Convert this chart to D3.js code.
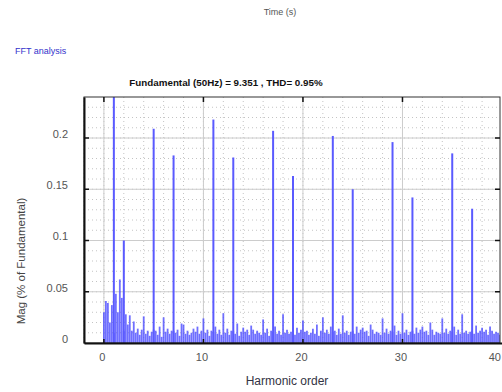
<!DOCTYPE html>
<html>
<head>
<meta charset="utf-8">
<script src="https://cdn.jsdelivr.net/npm/d3@7"></script>
<style>
  body { margin: 0; background: #fff; }
  svg { display: block; font-family: "Liberation Sans", Arial, sans-serif; }
</style>
</head>
<body>
<div id="chart"></div>
<script>
// harmonic orders of the main spectral lines and their magnitudes (% of fundamental)
const peakOrders = [1, 2, 5, 7, 11, 13, 17, 19, 23, 25, 29, 31, 35, 37]
const peakMags = [100, 0.100, 0.209, 0.183, 0.218, 0.181, 0.207, 0.163, 0.202, 0.150, 0.196, 0.142, 0.185, 0.131]

// background spectrum, one value per 0.2 harmonic step, order 0 .. 40
const binStep = 0.2
const noiseMags = [
  0.030, 0.041, 0.039, 0.020, 0.037,
  0.010, 0.048, 0.030, 0.062, 0.044,
  0.012, 0.028, 0.018, 0.027, 0.012,
  0.021, 0.010, 0.014, 0.008, 0.013,
  0.026, 0.009, 0.012, 0.007, 0.011,
  0.013, 0.012, 0.008, 0.016, 0.006,
  0.025, 0.011, 0.014, 0.009, 0.012,
  0.012, 0.010, 0.013, 0.007, 0.019,
  0.018, 0.009, 0.012, 0.008, 0.010,
  0.014, 0.011, 0.016, 0.009, 0.012,
  0.024, 0.010, 0.013, 0.007, 0.012,
  0.011, 0.016, 0.009, 0.013, 0.008,
  0.029, 0.010, 0.014, 0.008, 0.012,
  0.012, 0.009, 0.019, 0.007, 0.011,
  0.015, 0.011, 0.013, 0.008, 0.017,
  0.013, 0.009, 0.012, 0.010, 0.008,
  0.023, 0.010, 0.014, 0.007, 0.012,
  0.011, 0.016, 0.009, 0.012, 0.008,
  0.028, 0.010, 0.013, 0.009, 0.011,
  0.012, 0.008, 0.015, 0.010, 0.013,
  0.022, 0.011, 0.012, 0.008, 0.010,
  0.014, 0.009, 0.018, 0.007, 0.012,
  0.025, 0.010, 0.013, 0.009, 0.016,
  0.011, 0.012, 0.008, 0.014, 0.009,
  0.027, 0.010, 0.012, 0.008, 0.011,
  0.012, 0.009, 0.016, 0.010, 0.013,
  0.015, 0.011, 0.012, 0.007, 0.018,
  0.013, 0.009, 0.011, 0.010, 0.008,
  0.024, 0.010, 0.014, 0.009, 0.012,
  0.011, 0.017, 0.008, 0.012, 0.009,
  0.029, 0.010, 0.013, 0.008, 0.011,
  0.012, 0.009, 0.015, 0.010, 0.013,
  0.016, 0.011, 0.012, 0.008, 0.020,
  0.013, 0.008, 0.011, 0.010, 0.009,
  0.024, 0.010, 0.014, 0.009, 0.012,
  0.011, 0.016, 0.008, 0.013, 0.009,
  0.028, 0.010, 0.012, 0.009, 0.011,
  0.012, 0.009, 0.017, 0.010, 0.012,
  0.015, 0.011, 0.013, 0.008, 0.016,
  0.012, 0.009, 0.011, 0.010, 0.008,
  0.023
]

const xTicks = [0, 10, 20, 30, 40]
const yTicks = [0, 0.05, 0.1, 0.15, 0.2]

const width = 502
const height = 392
const plot = { left: 84, right: 500, top: 97, bottom: 343 }

const svg = d3.select('#chart')
  .append('svg')
  .attr('width', width)
  .attr('height', height)

const x = d3.scaleLinear().domain([-2, 40]).range([plot.left, 502])
const y = d3.scaleLinear().domain([0, 0.24]).range([plot.bottom, plot.top])

// texts above the plot
svg.append('text')
  .attr('x', 280).attr('y', 15)
  .attr('text-anchor', 'middle')
  .attr('font-size', 9)
  .attr('fill', '#555')
  .text('Time (s)')

svg.append('text')
  .attr('x', 15).attr('y', 54)
  .attr('font-size', 9)
  .attr('fill', '#3333cc')
  .text('FFT analysis')

svg.append('text')
  .attr('x', 226).attr('y', 86)
  .attr('text-anchor', 'middle')
  .attr('font-size', 9.8)
  .attr('font-weight', 'bold')
  .attr('fill', '#111')
  .text('Fundamental (50Hz) = 9.351 , THD= 0.95%')

// grid
const grid = svg.append('g')
grid.selectAll('.vminor')
  .data(d3.range(-2, 39.9, 2))
  .enter().append('line')
  .attr('x1', d => x(d)).attr('x2', d => x(d))
  .attr('y1', plot.top).attr('y2', plot.bottom)
  .attr('stroke', '#c4c4c4').attr('stroke-dasharray', '1,3')
grid.selectAll('.hminor')
  .data(d3.range(0.01, 0.24, 0.01))
  .enter().append('line')
  .attr('x1', plot.left).attr('x2', plot.right)
  .attr('y1', d => y(d)).attr('y2', d => y(d))
  .attr('stroke', '#c4c4c4').attr('stroke-dasharray', '1,3')
grid.selectAll('.vmajor')
  .data(xTicks.slice(0, 4))
  .enter().append('line')
  .attr('x1', d => x(d)).attr('x2', d => x(d))
  .attr('y1', plot.top).attr('y2', plot.bottom)
  .attr('stroke', '#ccc')
grid.selectAll('.hmajor')
  .data(yTicks.slice(1))
  .enter().append('line')
  .attr('x1', plot.left).attr('x2', plot.right)
  .attr('y1', d => y(d)).attr('y2', d => y(d))
  .attr('stroke', '#ccc')

// bars
svg.append('clipPath').attr('id', 'clip')
  .append('rect')
  .attr('x', plot.left).attr('y', plot.top)
  .attr('width', plot.right - plot.left).attr('height', plot.bottom - plot.top)

const bars = svg.append('g').attr('clip-path', 'url(#clip)')
bars.selectAll('.noise')
  .data(noiseMags)
  .enter().append('line')
  .attr('x1', (d, i) => x(i * binStep)).attr('x2', (d, i) => x(i * binStep))
  .attr('y1', y(0)).attr('y2', d => y(d))
  .attr('stroke', '#4b4bff').attr('stroke-opacity', 0.8)
  .attr('stroke-width', 1.8)
bars.selectAll('.peak')
  .data(peakOrders)
  .enter().append('line')
  .attr('x1', d => x(d)).attr('x2', d => x(d))
  .attr('y1', y(0)).attr('y2', (d, i) => y(peakMags[i]))
  .attr('stroke', '#5a5aff')
  .attr('stroke-width', 2)

// frame
svg.append('rect')
  .attr('x', plot.left).attr('y', plot.top)
  .attr('width', plot.right - plot.left).attr('height', plot.bottom - plot.top)
  .attr('fill', 'none').attr('stroke', '#333')

// axes
const xAxis = svg.append('g')
  .attr('transform', `translate(0,${plot.bottom})`)
  .call(d3.axisBottom(x).tickValues(xTicks).tickSize(0).tickPadding(10).tickFormat(d3.format('d')))
xAxis.select('.domain').attr('stroke', '#111').attr('stroke-width', 2)
xAxis.selectAll('text')
  .attr('font-size', 11).attr('fill', '#555')
  .attr('font-family', '"Liberation Sans", Arial, sans-serif')
  .attr('dx', -2)
// last label sits on the window edge: keep it inside
xAxis.selectAll('text').filter(d => d === 40)
  .attr('text-anchor', 'end').attr('dx', -1.5)

const yAxis = svg.append('g')
  .attr('transform', `translate(${plot.left},0)`)
  .call(d3.axisLeft(y).tickValues(yTicks).tickSize(0).tickPadding(16).tickFormat(d => d === 0 ? '0' : d3.format('.2~f')(d)))
yAxis.select('.domain').attr('stroke', '#111').attr('stroke-width', 2)
yAxis.selectAll('text')
  .attr('font-size', 11).attr('fill', '#555')
  .attr('font-family', '"Liberation Sans", Arial, sans-serif')
  .attr('dy', '-0.05em')

// inward tick marks on the frame
const tickG = svg.append('g').attr('stroke', '#111').attr('stroke-width', 1.5)
tickG.selectAll('.tl')
  .data(yTicks.slice(1))
  .enter().append('line')
  .attr('x1', plot.left).attr('x2', plot.left + 5)
  .attr('y1', d => y(d)).attr('y2', d => y(d))
tickG.selectAll('.tr')
  .data(yTicks.slice(1))
  .enter().append('line')
  .attr('x1', plot.right).attr('x2', plot.right - 5)
  .attr('y1', d => y(d)).attr('y2', d => y(d))
tickG.selectAll('.tt')
  .data(xTicks.slice(0, 4))
  .enter().append('line')
  .attr('x1', d => x(d)).attr('x2', d => x(d))
  .attr('y1', plot.top).attr('y2', plot.top + 5)
tickG.selectAll('.tb')
  .data(xTicks.slice(0, 4))
  .enter().append('line')
  .attr('x1', d => x(d)).attr('x2', d => x(d))
  .attr('y1', plot.bottom).attr('y2', plot.bottom - 4)

// axis titles
svg.append('text')
  .attr('x', 287).attr('y', 385)
  .attr('text-anchor', 'middle')
  .attr('font-size', 12)
  .attr('fill', '#333344')
  .text('Harmonic order')

svg.append('text')
  .attr('transform', 'translate(25,261) rotate(-90)')
  .attr('text-anchor', 'middle')
  .attr('font-size', 11.5)
  .attr('fill', '#444')
  .text('Mag (% of Fundamental)')
</script>
</body>
</html>
